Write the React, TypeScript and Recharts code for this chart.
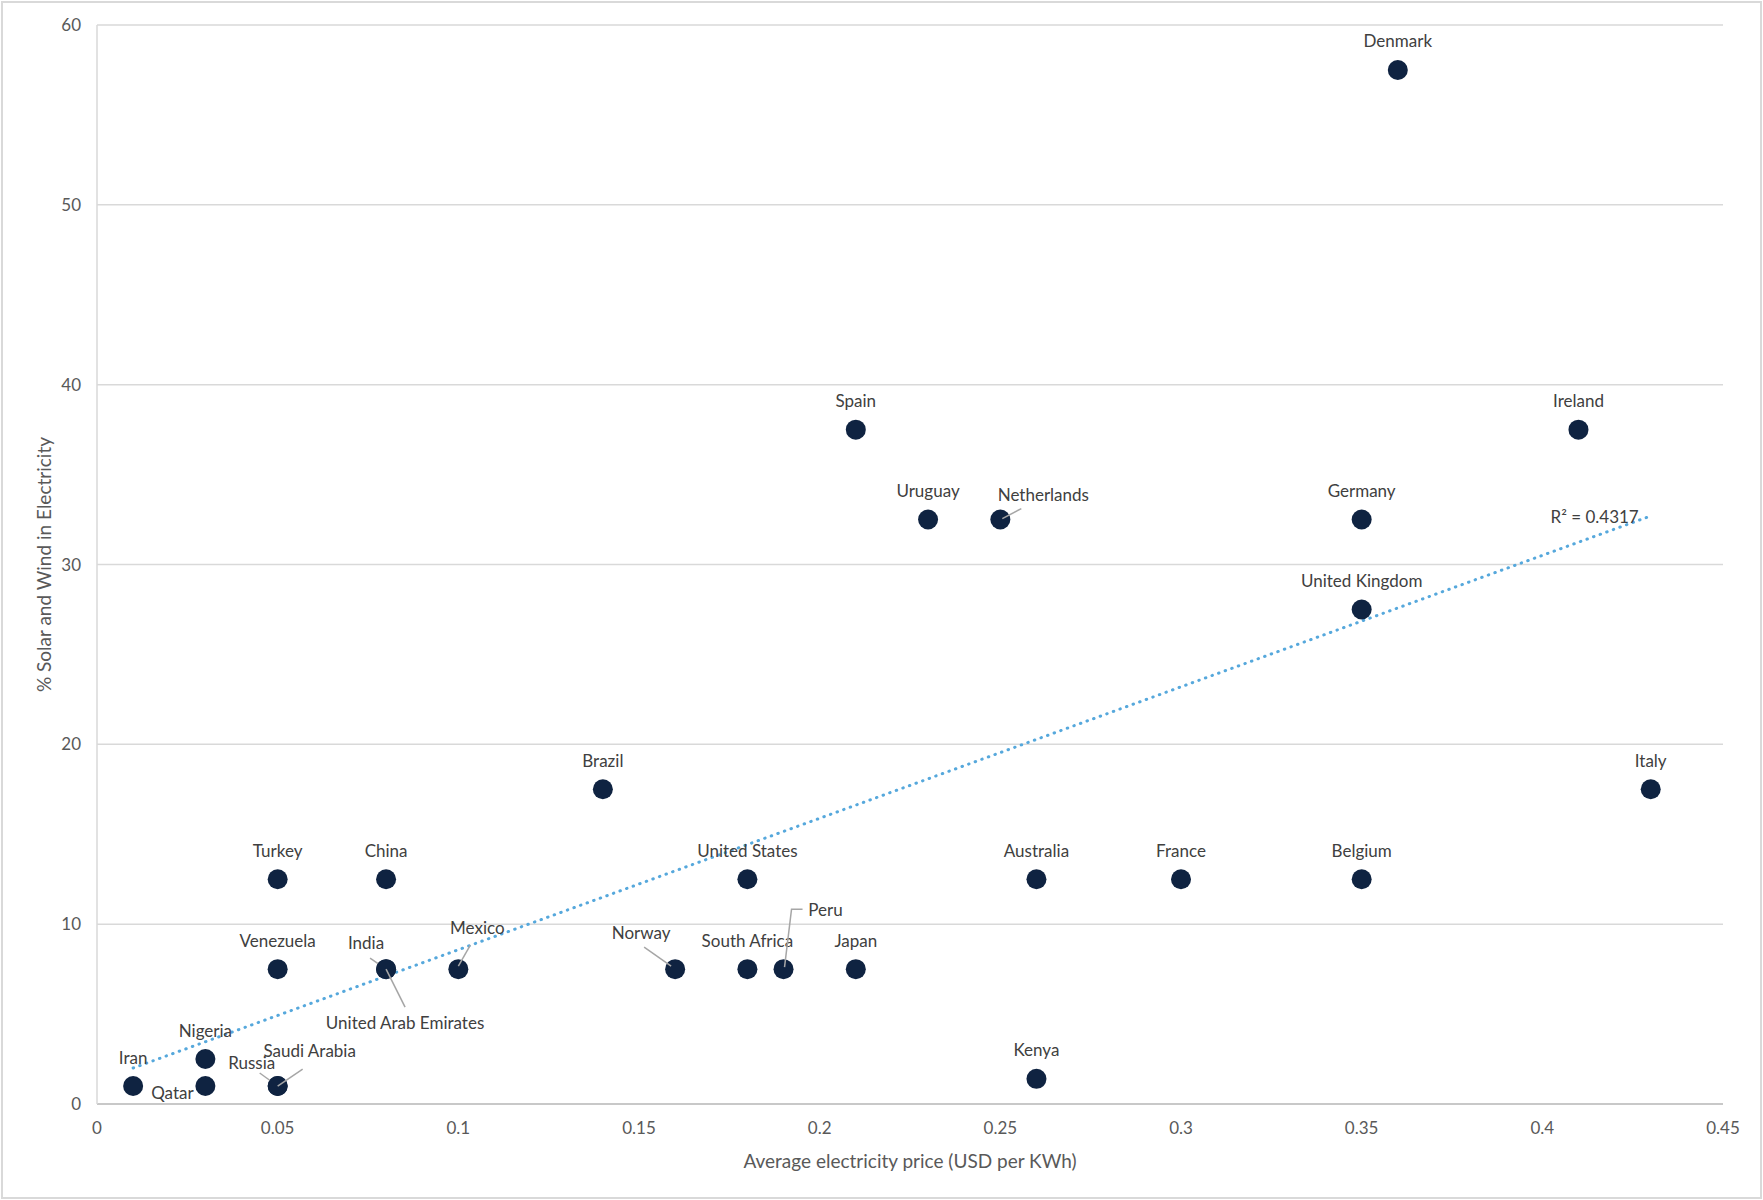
import React from "react";
import { ScatterChart, Scatter, XAxis, YAxis, CartesianGrid, ReferenceLine, ReferenceDot } from "recharts";

const countries = [
  "Denmark", "Spain", "Ireland", "Uruguay", "Netherlands", "Germany", "United Kingdom",
  "Brazil", "Italy", "Turkey", "China", "United States", "Australia", "France", "Belgium",
  "Venezuela", "India", "United Arab Emirates", "Mexico", "Norway", "South Africa", "Peru",
  "Japan", "Kenya", "Nigeria", "Iran", "Qatar", "Russia", "Saudi Arabia",
];
// Average electricity price (USD per KWh)
const prices = [
  0.36, 0.21, 0.41, 0.23, 0.25, 0.35, 0.35,
  0.14, 0.43, 0.05, 0.08, 0.18, 0.26, 0.3, 0.35,
  0.05, 0.08, 0.08, 0.1, 0.16, 0.18, 0.19,
  0.21, 0.26, 0.03, 0.01, 0.03, 0.05, 0.05,
];
// % Solar and Wind in Electricity
const shares = [
  57.5, 37.5, 37.5, 32.5, 32.5, 32.5, 27.5,
  17.5, 17.5, 12.5, 12.5, 12.5, 12.5, 12.5, 12.5,
  7.5, 7.5, 7.5, 7.5, 7.5, 7.5, 7.5,
  7.5, 1.4, 2.5, 1, 1, 1, 1,
];

const xTicks = [0, 0.05, 0.1, 0.15, 0.2, 0.25, 0.3, 0.35, 0.4, 0.45];
const yTicks = [0, 10, 20, 30, 40, 50, 60];

// linear trendline (start and end)
const trendStart = { x: 0.01, y: 2.0 };
const trendEnd = { x: 0.43, y: 32.7 };
const rSquared = "R² = 0.4317";

const data = countries.map((name, i) => ({ name, price: prices[i], share: shares[i] }));

// label placement (text centre relative to point) and leader lines
type LabelPos = { dx: number; dy: number; leader?: number[][] };
const defaultLabel: LabelPos = { dx: 0, dy: -29 };
const labelPos: Record<string, LabelPos> = {
  Netherlands: { dx: 43, dy: -25, leader: [[21, -11], [2, -1]] },
  Norway: { dx: -34, dy: -37, leader: [[-31, -22], [-4, -3]] },
  Peru: { dx: 42, dy: -60, leader: [[19, -60], [8, -60], [1, -2]] },
  India: { dx: -20, dy: -27, leader: [[-16, -11], [0, 0]] },
  "United Arab Emirates": { dx: 19, dy: 53, leader: [[0, 0], [19, 38]] },
  Mexico: { dx: 19, dy: -42, leader: [[12, -24], [0, -3]] },
  Qatar: { dx: -33, dy: 6 },
  Russia: { dx: -26, dy: -24, leader: [[-18, -13], [0, 0]] },
  "Saudi Arabia": { dx: 32, dy: -36, leader: [[25, -17], [0, 0]] },
};

const TEXT = "#404040";
const AXIS_TEXT = "#595959";
const GRID = "#d9d9d9";

function CountryPoint(props: any) {
  const { cx, cy, payload } = props;
  if (cx == null || cy == null) return null;
  const pos = labelPos[payload.name] || defaultLabel;
  return (
    <g>
      <circle cx={cx} cy={cy} r={10} fill="#0f2341" />
      {pos.leader && (
        <polyline
          points={pos.leader.map(([a, b]) => `${cx + a},${cy + b}`).join(" ")}
          fill="none"
          stroke="#a6a6a6"
          strokeWidth={1.5}
        />
      )}
      <text
        x={cx + pos.dx}
        y={cy + pos.dy}
        textAnchor="middle"
        dominantBaseline="central"
        fontSize={17}
        fill={TEXT}
      >
        {payload.name}
      </text>
    </g>
  );
}

const yTitle = (props: any) => {
  const vb = props.viewBox;
  const x = vb.x + 43;
  const y = vb.y + vb.height / 2;
  return (
    <text x={x} y={y} transform={`rotate(-90 ${x} ${y})`} textAnchor="middle" dominantBaseline="central" fontSize={19} fill={AXIS_TEXT}>
      % Solar and Wind in Electricity
    </text>
  );
};

const xTitle = (props: any) => {
  const vb = props.viewBox;
  return (
    <text x={vb.x + vb.width / 2} y={vb.y + 56} textAnchor="middle" dominantBaseline="central" fontSize={19} fill={AXIS_TEXT}>
      Average electricity price (USD per KWh)
    </text>
  );
};

const r2Label = (props: any) => {
  const vb = props.viewBox;
  return (
    <text x={vb.x - 12} y={vb.y + 1} textAnchor="end" dominantBaseline="central" fontSize={17} fill={TEXT}>
      {rSquared}
    </text>
  );
};

export default function App() {
  return (
    <div
      style={{
        position: "absolute",
        left: 0,
        top: 0,
        width: 1763,
        height: 1200,
        background: "#fff",
        fontFamily: "Lato, 'Liberation Sans', sans-serif",
      }}
    >
      <ScatterChart width={1763} height={1200} margin={{ top: 25, right: 40, bottom: 0, left: 0 }}>
        <CartesianGrid vertical={false} stroke={GRID} strokeWidth={1.5} />
        <XAxis
          type="number"
          dataKey="price"
          domain={[0, 0.45]}
          ticks={xTicks}
          interval={0}
          height={96}
          tickSize={0}
          tickLine={false}
          tickMargin={18}
          axisLine={{ stroke: "#bfbfbf", strokeWidth: 1.5 }}
          tick={{ fill: AXIS_TEXT, fontSize: 17 }}
          label={xTitle}
        />
        <YAxis
          type="number"
          dataKey="share"
          domain={[0, 60]}
          ticks={yTicks}
          interval={0}
          width={97}
          tickSize={0}
          tickLine={false}
          tickMargin={16}
          axisLine={{ stroke: GRID, strokeWidth: 1.5 }}
          tick={{ fill: AXIS_TEXT, fontSize: 17 }}
          label={yTitle}
        />
        <Scatter data={data} shape={CountryPoint} isAnimationActive={false} />
        <ReferenceLine
          segment={[trendStart, trendEnd]}
          stroke="#56a8dc"
          strokeWidth={3}
          strokeDasharray="0.5 6.5"
          strokeLinecap="round"
          ifOverflow="visible"
        />
        <ReferenceDot x={trendEnd.x} y={trendEnd.y} r={0} fill="none" stroke="none" label={r2Label} ifOverflow="visible" />
      </ScatterChart>
      <div
        style={{
          position: "absolute",
          left: 1,
          top: 1,
          width: 1761,
          height: 1198,
          boxSizing: "border-box",
          border: "2px solid #d9d9d9",
          pointerEvents: "none",
        }}
      />
    </div>
  );
}
